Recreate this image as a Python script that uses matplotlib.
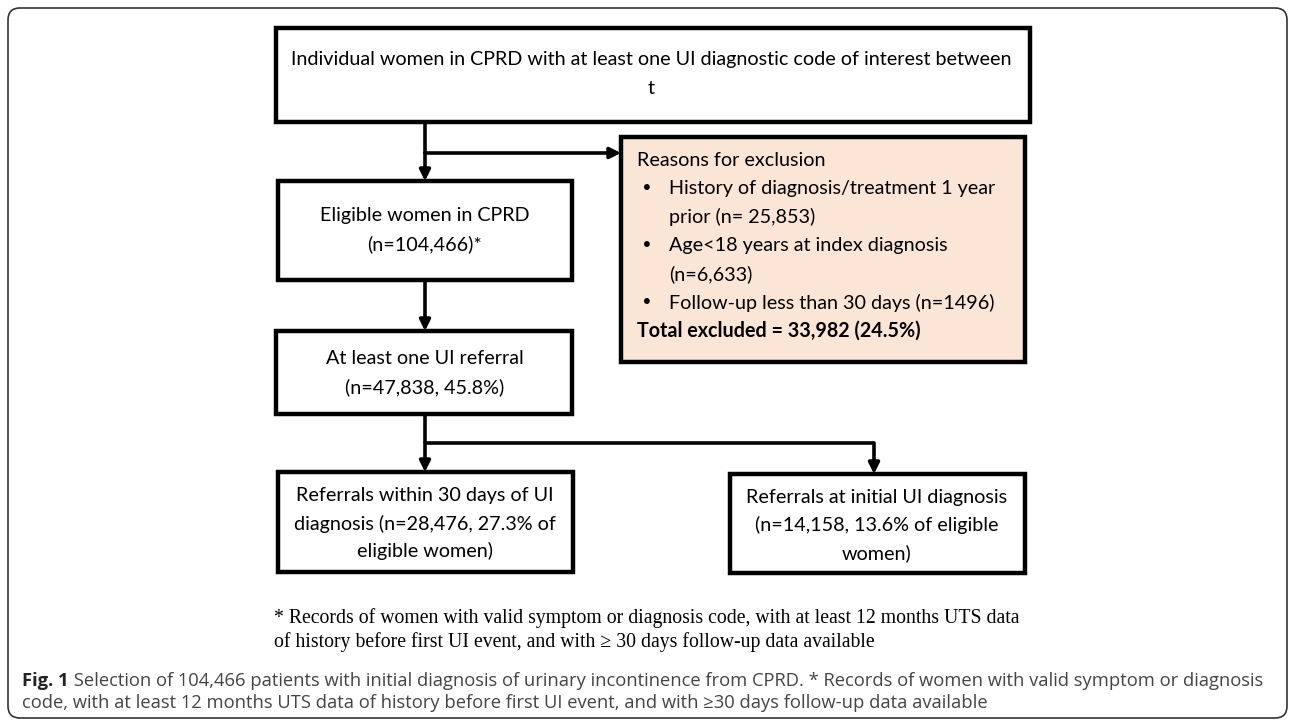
import matplotlib.pyplot as plt
from matplotlib.patches import FancyBboxPatch, Rectangle

# Flowchart contents
top_lines = ["Individual women in CPRD with at least one UI diagnostic code of interest between", "t"]
eligible_lines = ["Eligible women in CPRD", "(n=104,466)*"]
referral_lines = ["At least one UI referral", "(n=47,838, 45.8%)"]
within30_lines = ["Referrals within 30 days of UI", "diagnosis (n=28,476, 27.3% of", "eligible women)"]
initial_lines = ["Referrals at initial UI diagnosis", "(n=14,158, 13.6% of eligible", "women)"]
excl_title = "Reasons for exclusion"
excl_items = [["History of diagnosis/treatment 1 year", "prior (n= 25,853)"],
              ["Age<18 years at index diagnosis", "(n=6,633)"],
              ["Follow-up less than 30 days (n=1496)"]]
excl_total = "Total excluded = 33,982 (24.5%)"
footnote = ["* Records of women with valid symptom or diagnosis code, with at least 12 months UTS data",
            "of history before first UI event, and with \u2265 30 days follow-up data available"]
caption_bold = "Fig. 1"
caption = [" Selection of 104,466 patients with initial diagnosis of urinary incontinence from CPRD. * Records of women with valid symptom or diagnosis",
           "code, with at least 12 months UTS data of history before first UI event, and with \u226530 days follow-up data available"]

box_font = "Lato"
fs = 14.2
cap_fs = 13.2

fig = plt.figure(figsize=(12.9, 7.22), dpi=100)
ax = fig.add_axes([0, 0, 1, 1])
ax.set_xlim(0, 1290)
ax.set_ylim(722, 0)
ax.axis("off")

# outer rounded frame
ax.add_patch(FancyBboxPatch((8, 8), 1279, 710, boxstyle="round,pad=0,rounding_size=12",
                            fill=False, ec="#333333", lw=1.2))


def box(x0, y0, x1, y1, fc="white"):
    ax.add_patch(Rectangle((x0, y0), x1 - x0, y1 - y0, fc=fc, ec="black", lw=3.2, zorder=3))


def centered(lines, cx, y0, step):
    for i, s in enumerate(lines):
        ax.text(cx, y0 + i * step, s, ha="center", va="center", family=box_font,
                fontsize=fs, zorder=4)


def arrow(p0, p1):
    ax.annotate("", xy=p1, xytext=p0,
                arrowprops=dict(arrowstyle="-|>", lw=2.6, color="black",
                                mutation_scale=16, shrinkA=0, shrinkB=0), zorder=2)


def line(xs, ys):
    ax.plot(xs, ys, color="black", lw=2.6, solid_capstyle="butt", zorder=2)


# boxes
box(276, 28, 1030, 122)
centered(top_lines, 651, 60, 28)

box(278, 181, 572, 280)
centered(eligible_lines, 425, 216, 28)

box(276, 331, 572, 414)
centered(referral_lines, 425, 359, 28)

box(278, 472, 573, 572)
centered(within30_lines, 425, 496, 27.5)

box(730, 474, 1025, 573)
centered(initial_lines, 877, 497, 28)

box(621, 137, 1025, 362, fc="#FBE5D6")
yy = 160
ax.text(637, yy, excl_title, ha="left", va="center", family=box_font, fontsize=fs, zorder=4)
for item in excl_items:
    for j, s in enumerate(item):
        yy += 28.5
        if j == 0:
            ax.text(641, yy, "\u2022", ha="left", va="center", family="DejaVu Sans", fontsize=fs, zorder=4)
        ax.text(669, yy, s, ha="left", va="center", family=box_font, fontsize=fs, zorder=4)
yy += 28.5
ax.text(637, yy, excl_total, ha="left", va="center", family=box_font, fontsize=fs,
        fontweight="bold", zorder=4)

# connectors
line([425, 425], [122, 153])
arrow((425, 153), (425, 181))
arrow((425, 153), (621, 153))
arrow((425, 280), (425, 331))
line([425, 425], [414, 443])
arrow((425, 443), (425, 472))
line([425, 874], [443, 443])
arrow((874, 443), (874, 474))

# footnote under the chart
for i, s in enumerate(footnote):
    ax.text(274, 618 + i * 24, s, ha="left", va="center", family="Liberation Serif", fontsize=14.2)

# caption
t = ax.text(22, 681, caption_bold, ha="left", va="center", family="Open Sans",
            fontsize=cap_fs, fontweight="bold", color="#222222")
fig.canvas.draw()
bb = t.get_window_extent()
x_end = ax.transData.inverted().transform((bb.x1, bb.y0))[0]
ax.text(x_end, 681, caption[0], ha="left", va="center", family="Open Sans",
        fontsize=cap_fs, color="#444444")
ax.text(22, 703, caption[1], ha="left", va="center", family="Open Sans",
        fontsize=cap_fs, color="#444444")

fig.savefig("out.png", dpi=100)
